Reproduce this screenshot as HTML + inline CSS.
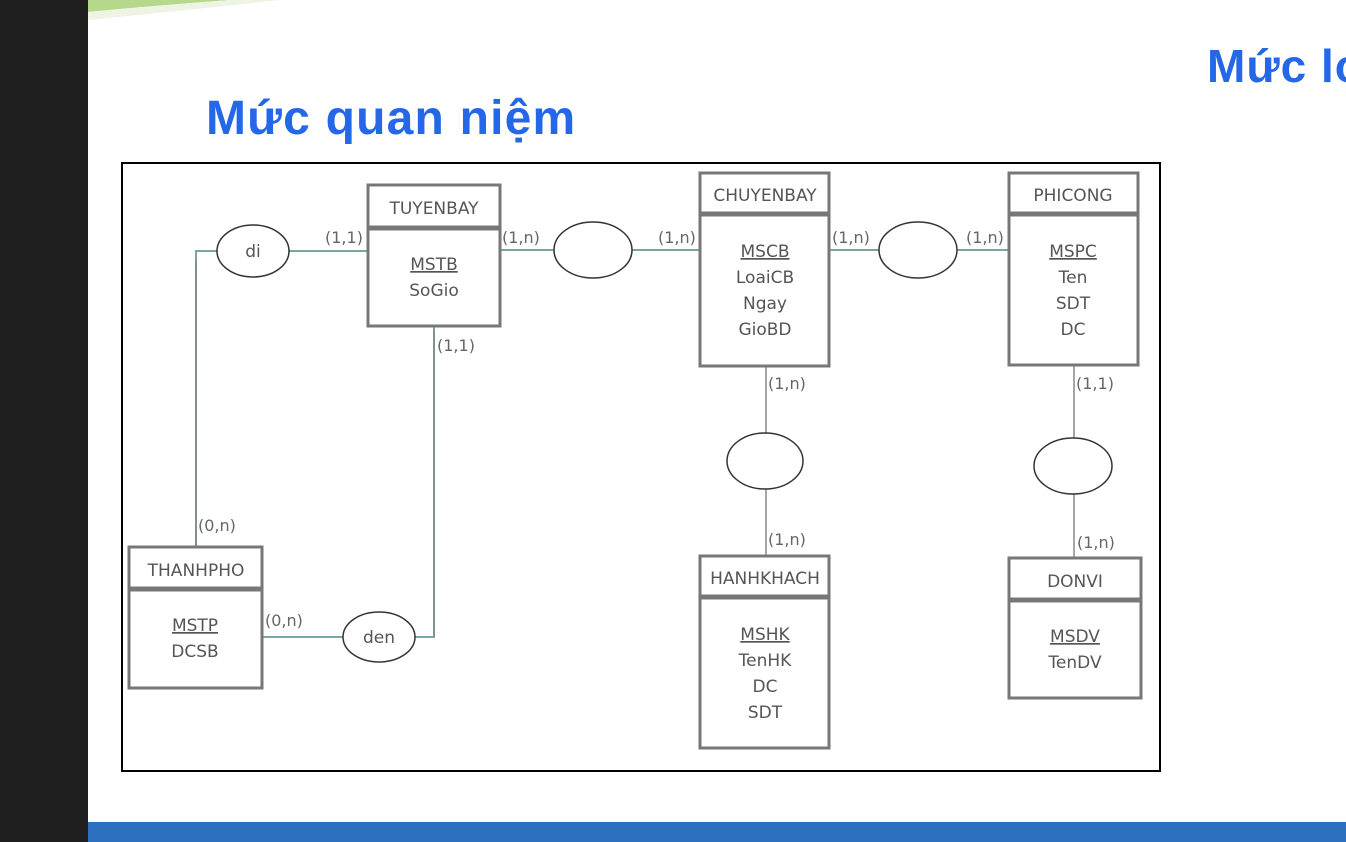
<!DOCTYPE html>
<html><head><meta charset="utf-8"><style>
html,body{margin:0;padding:0;width:1346px;height:842px;overflow:hidden;background:#fff}
svg{display:block}
</style></head><body>
<svg width="1346" height="842" xmlns="http://www.w3.org/2000/svg" font-family="'DejaVu Sans','Liberation Sans',sans-serif">
<rect x="0" y="0" width="88" height="842" fill="#1f1f1f"/>
<path d="M88 0 L230 0 Q150 6 88 12 Z" fill="#b5d88a"/>
<path d="M88 12 Q150 6 230 0 L280 0 Q170 12 88 20 Z" fill="#eef4e4"/>
<rect x="88" y="822" width="1258" height="20" fill="#2b6fbe"/>
<text x="206" y="134" font-family="'Liberation Sans',sans-serif" font-weight="bold" font-size="48" letter-spacing="1.2" fill="#2468e8">Mức quan niệm</text>
<text x="1207" y="82" font-family="'Liberation Sans',sans-serif" font-weight="bold" font-size="46" letter-spacing="1" fill="#2468e8">Mức lo</text>
<rect x="122" y="163" width="1038" height="608" fill="#fff" stroke="#000" stroke-width="2"/>
<g stroke="#7aa5a8" stroke-width="2" fill="none">
<path d="M289 251 H368"/><path d="M217 251 H196 V547"/>
<path d="M500 250 H554"/><path d="M632 250 H700"/>
<path d="M829 250 H879"/><path d="M957 250 H1009"/>
<path d="M262 637 H343"/><path d="M415 637 H434 V326"/>
</g>
<g stroke="#888" stroke-width="1.5" fill="none">
<path d="M196 260 V547"/><path d="M434 330 V637"/>
<path d="M766 366 V433"/><path d="M766 489 V556"/>
<path d="M1074 365 V438"/><path d="M1074 494 V558"/>
</g>
<g fill="#fff" stroke="#333" stroke-width="1.5">
<ellipse cx="253" cy="251" rx="36" ry="26"/>
<ellipse cx="593" cy="250" rx="39" ry="28"/>
<ellipse cx="918" cy="250" rx="39" ry="28"/>
<ellipse cx="765" cy="461" rx="38" ry="28"/>
<ellipse cx="1073" cy="466" rx="39" ry="28"/>
<ellipse cx="379" cy="637" rx="36" ry="25"/>
</g>
<g fill="#fff" stroke="#777" stroke-width="3">
<rect x="368" y="185" width="132" height="141"/><line x1="368" y1="228" x2="500" y2="228" stroke-width="5"/>
<rect x="700" y="173" width="129" height="193"/><line x1="700" y1="214" x2="829" y2="214" stroke-width="5"/>
<rect x="1009" y="173" width="129" height="192"/><line x1="1009" y1="214" x2="1138" y2="214" stroke-width="5"/>
<rect x="129" y="547" width="133" height="141"/><line x1="129" y1="589" x2="262" y2="589" stroke-width="5"/>
<rect x="700" y="556" width="129" height="192"/><line x1="700" y1="597" x2="829" y2="597" stroke-width="5"/>
<rect x="1009" y="558" width="132" height="140"/><line x1="1009" y1="600" x2="1141" y2="600" stroke-width="5"/>
</g>
<g fill="#555" font-size="17" text-anchor="middle">
<text x="434" y="214">TUYENBAY</text>
<text x="765" y="201">CHUYENBAY</text>
<text x="1073" y="201">PHICONG</text>
<text x="196" y="576">THANHPHO</text>
<text x="765" y="584">HANHKHACH</text>
<text x="1075" y="587">DONVI</text>
<text x="253" y="257">di</text>
<text x="379" y="643">den</text>
<text x="434" y="270" text-decoration="underline">MSTB</text><text x="434" y="296">SoGio</text>
<text x="765" y="257" text-decoration="underline">MSCB</text><text x="765" y="283">LoaiCB</text><text x="765" y="309">Ngay</text><text x="765" y="335">GioBD</text>
<text x="1073" y="257" text-decoration="underline">MSPC</text><text x="1073" y="283">Ten</text><text x="1073" y="309">SDT</text><text x="1073" y="335">DC</text>
<text x="195" y="631" text-decoration="underline">MSTP</text><text x="195" y="657">DCSB</text>
<text x="765" y="640" text-decoration="underline">MSHK</text><text x="765" y="666">TenHK</text><text x="765" y="692">DC</text><text x="765" y="718">SDT</text>
<text x="1075" y="642" text-decoration="underline">MSDV</text><text x="1075" y="668">TenDV</text>
</g>
<g fill="#666" font-size="16">
<text x="325" y="243">(1,1)</text>
<text x="502" y="243">(1,n)</text>
<text x="658" y="243">(1,n)</text>
<text x="832" y="243">(1,n)</text>
<text x="966" y="243">(1,n)</text>
<text x="437" y="351">(1,1)</text>
<text x="198" y="531">(0,n)</text>
<text x="265" y="626">(0,n)</text>
<text x="768" y="389">(1,n)</text>
<text x="768" y="545">(1,n)</text>
<text x="1076" y="389">(1,1)</text>
<text x="1077" y="548">(1,n)</text>
</g>
</svg>
</body></html>
